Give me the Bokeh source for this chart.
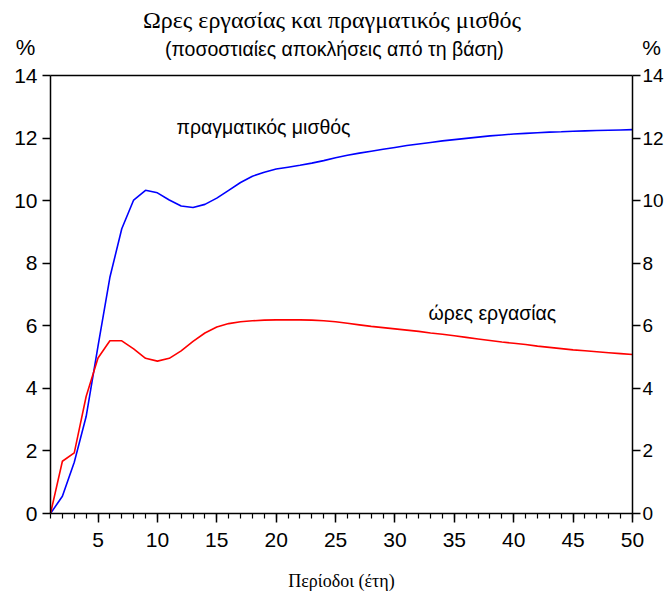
from bokeh.plotting import figure
from bokeh.models import LinearAxis, SingleIntervalTicker, Label, Range1d
from bokeh.embed import file_html
from bokeh.resources import INLINE

periods = list(range(1, 51))
real_wage = [0.0, 0.55, 1.64, 3.1, 5.35, 7.55, 9.1, 10.02, 10.33, 10.25,
             10.02, 9.83, 9.78, 9.88, 10.08, 10.33, 10.58, 10.78, 10.91, 11.01,
             11.07, 11.13, 11.20, 11.28, 11.37, 11.45, 11.52, 11.58, 11.64, 11.70,
             11.76, 11.81, 11.86, 11.91, 11.95, 11.99, 12.03, 12.07, 12.10, 12.13,
             12.15, 12.17, 12.19, 12.20, 12.22, 12.23, 12.24, 12.25, 12.26, 12.27]
hours = [0.0, 1.67, 1.94, 3.74, 4.97, 5.52, 5.52, 5.26, 4.96, 4.87,
         4.96, 5.20, 5.50, 5.77, 5.96, 6.07, 6.13, 6.16, 6.18, 6.19,
         6.19, 6.19, 6.18, 6.16, 6.13, 6.08, 6.03, 5.98, 5.94, 5.90,
         5.86, 5.82, 5.77, 5.73, 5.68, 5.63, 5.58, 5.53, 5.48, 5.44,
         5.40, 5.35, 5.31, 5.27, 5.23, 5.20, 5.17, 5.14, 5.11, 5.08]
y_min, y_max = 0, 14

title_text = "Ωρες εργασίας και πραγματικός μισθός"
subtitle_text = "(ποσοστιαίες αποκλήσεις από τη βάση)"
xlabel_text = "Περίοδοι (έτη)"
wage_label = "πραγματικός μισθός"
hours_label = "ώρες εργασίας"
unit_label = "%"

SANS = "Liberation Sans"
SERIF = "Liberation Serif"

# The frame covers the whole canvas; the chart box is drawn with
# axes at fixed locations (bounded) plus a top rule.
x0, x1 = periods[0], periods[-1]
px_per_x = 11.875
px_per_y = 31.2857
p = figure(width=664, height=594, output_backend="svg", toolbar_location=None,
           x_range=Range1d(x0 - 50 / px_per_x, x1 + 32 / px_per_x),
           y_range=Range1d(y_min - 81 / px_per_y, y_max + 75 / px_per_y),
           min_border_left=0, min_border_right=0, min_border_top=0, min_border_bottom=0)
p.title = None
p.grid.visible = False
p.outline_line_color = None
p.background_fill_color = "white"
p.border_fill_color = "white"

# top edge of the box
p.line([x0, x1], [y_max, y_max], line_color="black", line_width=1.5)

p.line(periods, real_wage, line_color="#0000FF", line_width=1.6)
p.line(periods, hours, line_color="#FF0000", line_width=1.6)

xa = p.xaxis[0]
xa.fixed_location = y_min
xa.bounds = (x0, x1)
xa.ticker = SingleIntervalTicker(interval=5, num_minor_ticks=5)
xa.major_tick_out = 9
xa.major_tick_in = 0
xa.minor_tick_out = 5
xa.minor_tick_in = 0
xa.axis_line_width = 1.5
xa.major_tick_line_width = 1.5
xa.minor_tick_line_width = 1.2
xa.major_label_text_font = SANS
xa.major_label_text_font_size = "21px"
xa.major_label_text_color = "black"
xa.major_label_standoff = 10
xa.axis_label = xlabel_text
xa.axis_label_text_font = SERIF
xa.axis_label_text_font_size = "18px"
xa.axis_label_text_font_style = "normal"
xa.axis_label_text_color = "black"
xa.axis_label_standoff = 21

ya = p.yaxis[0]
ya.fixed_location = x0
ya.bounds = (y_min, y_max)
ya.ticker = SingleIntervalTicker(interval=2, num_minor_ticks=0)
ya.major_tick_out = 8
ya.major_tick_in = 0
ya.minor_tick_out = 0
ya.minor_tick_in = 0
ya.axis_line_width = 1.5
ya.major_tick_line_width = 1.5
ya.major_label_text_font = SANS
ya.major_label_text_font_size = "21px"
ya.major_label_text_color = "black"
ya.major_label_standoff = 5

ra = LinearAxis(ticker=SingleIntervalTicker(interval=2, num_minor_ticks=0))
ra.fixed_location = x1
ra.bounds = (y_min, y_max)
ra.major_tick_out = 8
ra.major_tick_in = 0
ra.minor_tick_out = 0
ra.minor_tick_in = 0
ra.axis_line_width = 1.5
ra.major_tick_line_width = 1.5
ra.major_label_text_font = SANS
ra.major_label_text_font_size = "19px"
ra.major_label_text_color = "black"
ra.major_label_standoff = 2
p.add_layout(ra, "right")

def lab(x, y, text, font, size, align="center"):
    p.add_layout(Label(x=x, y=y, text=text, text_font=font, text_font_size=size,
                       text_align=align, text_baseline="middle", text_color="black"))

lab(24.7, 15.76, title_text, SERIF, "24px")
lab(24.9, 14.86, subtitle_text, SANS, "19.5px")
lab(-1.1, 14.9, unit_label, SANS, "22px")
lab(51.6, 14.9, unit_label, SANS, "21px")
lab(11.61, 12.34, wage_label, SANS, "19.5px", "left")
lab(32.83, 6.42, hours_label, SANS, "19.5px", "left")

open("out.html", "w").write(file_html(p, INLINE))
